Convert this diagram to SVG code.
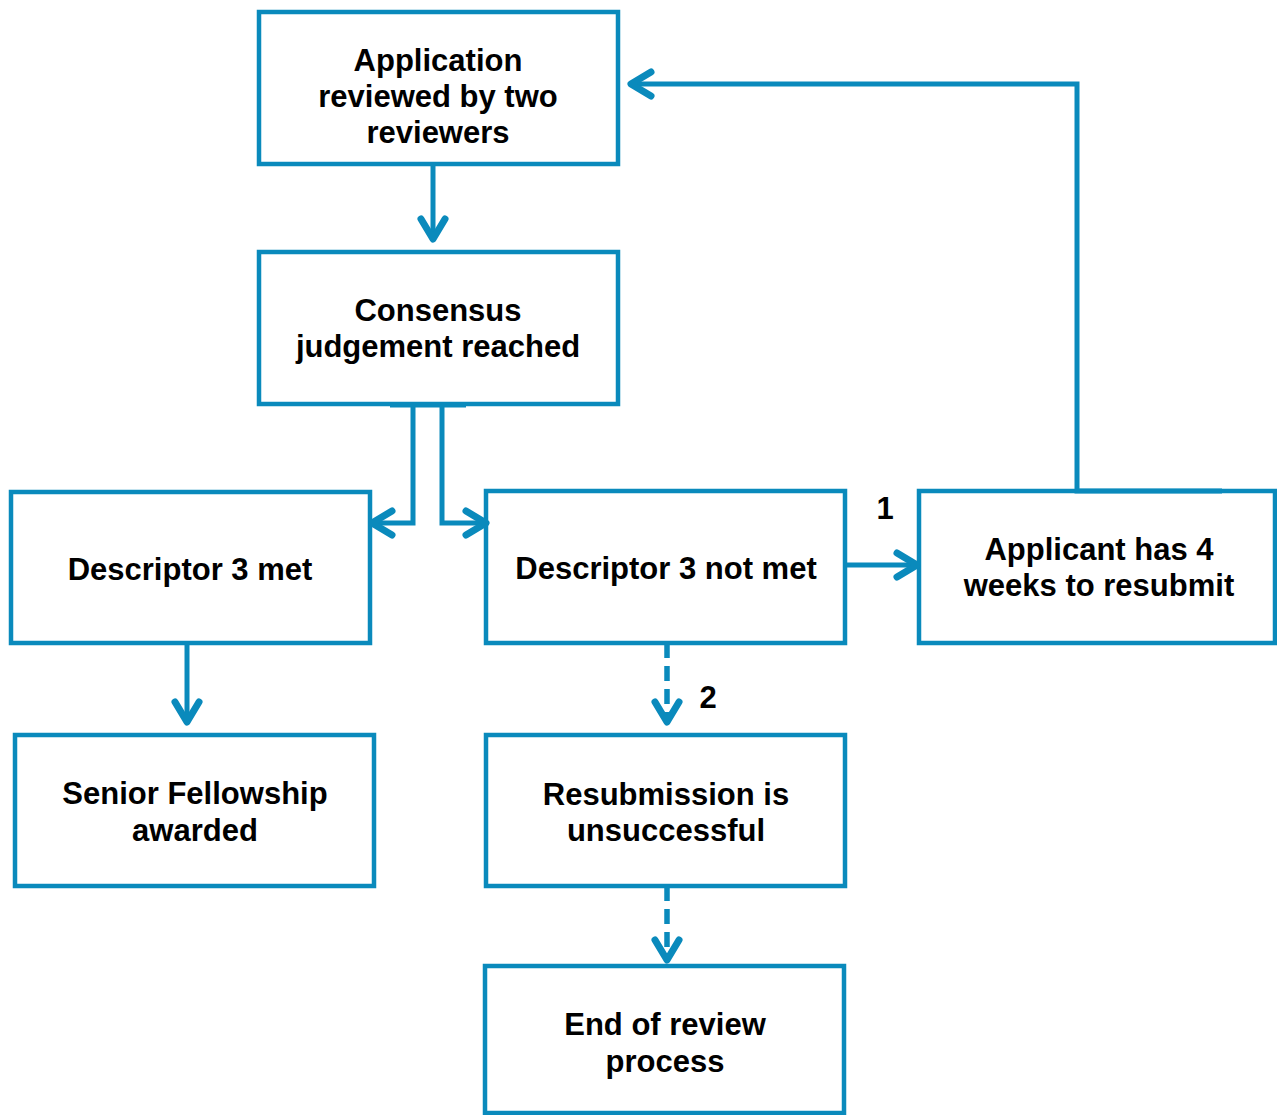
<svg xmlns="http://www.w3.org/2000/svg" width="1277" height="1115" viewBox="0 0 1277 1115">
<style>
.box{fill:#fff;stroke:#0a8abc;stroke-width:4.5}
.t{font-family:"Liberation Sans",Arial,sans-serif;font-weight:bold;font-size:31px;fill:#000;text-anchor:middle}
.c{fill:none;stroke:#0a8abc;stroke-width:5}
.d{stroke-dasharray:15 8;stroke-width:5.5}
.ah{fill:none;stroke:#0a8abc;stroke-width:7;stroke-linecap:round;stroke-linejoin:round}
</style>
<rect width="1277" height="1115" fill="#fff"/>
<g id="n1"><rect class="box" x="259" y="12" width="359" height="152"/>
<text class="t" x="438" y="71">Application</text><text class="t" x="438" y="107">reviewed by two</text><text class="t" x="438" y="143">reviewers</text></g>
<g id="n2"><rect class="box" x="259" y="252" width="359" height="152"/>
<text class="t" x="438" y="321">Consensus</text><text class="t" x="438" y="357">judgement reached</text></g>
<g id="n3"><rect class="box" x="11" y="492" width="359" height="151"/>
<text class="t" x="190" y="580">Descriptor 3 met</text></g>
<g id="n4"><rect class="box" x="486" y="491" width="359" height="152"/>
<text class="t" x="666" y="579">Descriptor 3 not met</text></g>
<g id="n5"><rect class="box" x="919" y="491" width="356" height="152"/>
<text class="t" x="1099" y="560">Applicant has 4</text><text class="t" x="1099" y="596">weeks to resubmit</text></g>
<g id="n6"><rect class="box" x="15" y="735" width="359" height="151"/>
<text class="t" x="195" y="804">Senior Fellowship</text><text class="t" x="195" y="841">awarded</text></g>
<g id="n7"><rect class="box" x="486" y="735" width="359" height="151"/>
<text class="t" x="666" y="805">Resubmission is</text><text class="t" x="666" y="841">unsuccessful</text></g>
<g id="n8"><rect class="box" x="485" y="966" width="359" height="147"/>
<text class="t" x="665" y="1035">End of review</text><text class="t" x="665" y="1072">process</text></g>
<g id="connectors">
<path class="c" d="M433 164V238"/>
<path class="ah" d="M421 219L433 239L445 219"/>
<path class="c" d="M390 405H466"/>
<path class="c" d="M413 405V523H373"/>
<path class="ah" d="M392 511L372 523L392 535"/>
<path class="c" d="M442 405V523H484"/>
<path class="ah" d="M466 511L486 523L466 535"/>
<path class="c" d="M187 643V721"/>
<path class="ah" d="M175 702L187 722L199 702"/>
<path class="c" d="M845 565H915"/>
<path class="ah" d="M897 553L917 565L897 577"/>
<path class="c" d="M1222 491H1077V84H633"/>
<path class="ah" d="M651 72L631 84L651 96"/>
<path class="c d" d="M667 643V721"/>
<path class="ah" d="M655 702L667 722L679 702"/>
<path class="c d" d="M667 886V958"/>
<path class="ah" d="M655 940L667 960L679 940"/>
<text class="t" x="885" y="519">1</text>
<text class="t" x="708" y="708">2</text>
</g>
</svg>
